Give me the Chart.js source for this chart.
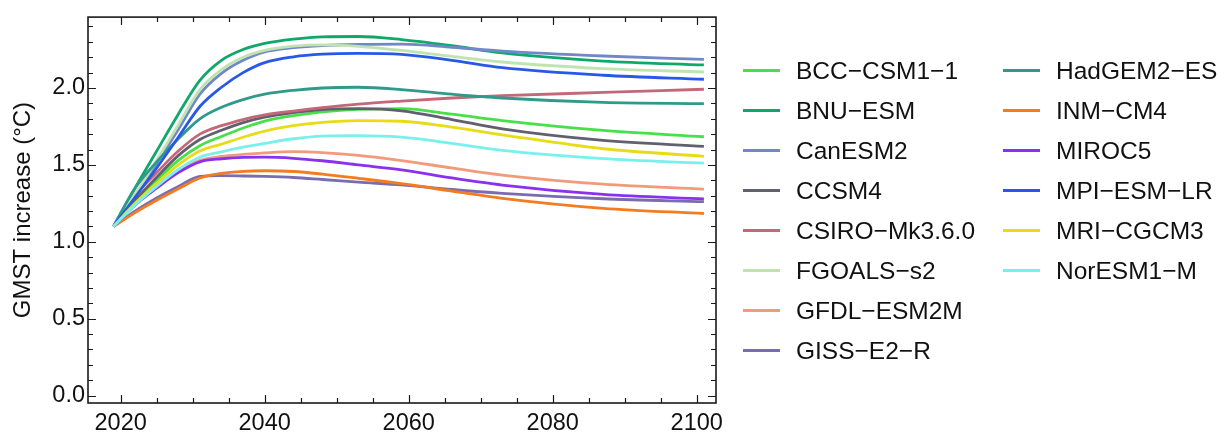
<!DOCTYPE html>
<html lang="en">
<head>
  <meta charset="UTF-8" />
  <title>GMST increase</title>
  <script src="https://cdn.jsdelivr.net/npm/chart.js"></script>
  <style>
    body { margin: 0; background: #fff; }
    #wrap { position: relative; width: 1229px; height: 436px; }
    #legend { position: absolute; left: 0; top: 0; font-family: "Liberation Sans", Arial, sans-serif; font-size: 24.5px; color: #111; }
    .item { position: absolute; height: 40px; line-height: 40px; white-space: nowrap; }
    .item .swatch { position: absolute; left: 0; top: 18px; width: 37px; height: 3px; }
    .item .name { position: absolute; left: 53px; top: 0; }
  </style>
</head>
<body>
<div id="wrap">
  <canvas id="chart" width="1229" height="436"></canvas>
  <div id="legend"></div>
</div>
<script>
  // sample years
  const years = [2019, 2022, 2025, 2028, 2031, 2034, 2037, 2040, 2044, 2048, 2053, 2059, 2066, 2073, 2087, 2101];

  const bcc    = [1.10, 1.26, 1.40, 1.53, 1.625, 1.685, 1.74, 1.785, 1.82, 1.845, 1.862, 1.866, 1.83, 1.788, 1.724, 1.683];
  const bnu    = [1.10, 1.35, 1.59, 1.83, 2.05, 2.18, 2.25, 2.29, 2.318, 2.333, 2.335, 2.315, 2.275, 2.228, 2.175, 2.15];
  const canesm = [1.10, 1.30, 1.51, 1.73, 1.96, 2.095, 2.18, 2.235, 2.262, 2.276, 2.283, 2.285, 2.265, 2.24, 2.208, 2.186];
  const ccsm4  = [1.10, 1.27, 1.42, 1.56, 1.665, 1.725, 1.775, 1.81, 1.84, 1.86, 1.866, 1.852, 1.795, 1.734, 1.659, 1.621];
  const csiro  = [1.10, 1.30, 1.45, 1.59, 1.70, 1.755, 1.795, 1.825, 1.85, 1.872, 1.895, 1.915, 1.935, 1.95, 1.971, 1.992];
  const fgoals = [1.10, 1.31, 1.53, 1.76, 1.99, 2.12, 2.20, 2.245, 2.272, 2.28, 2.27, 2.244, 2.205, 2.169, 2.126, 2.104];
  const gfdl   = [1.10, 1.24, 1.35, 1.46, 1.53, 1.555, 1.568, 1.578, 1.586, 1.58, 1.562, 1.528, 1.48, 1.434, 1.375, 1.343];
  const giss   = [1.10, 1.20, 1.285, 1.36, 1.425, 1.43, 1.428, 1.425, 1.418, 1.405, 1.388, 1.37, 1.34, 1.315, 1.28, 1.261];
  const hadgem = [1.10, 1.35, 1.52, 1.67, 1.80, 1.875, 1.925, 1.96, 1.985, 2.0, 2.005, 1.99, 1.96, 1.935, 1.906, 1.898];
  const inm    = [1.10, 1.19, 1.27, 1.345, 1.415, 1.445, 1.458, 1.462, 1.457, 1.44, 1.413, 1.378, 1.33, 1.283, 1.218, 1.184];
  const miroc5 = [1.10, 1.24, 1.35, 1.45, 1.52, 1.54, 1.549, 1.55, 1.543, 1.527, 1.50, 1.468, 1.415, 1.369, 1.308, 1.279];
  const mpi    = [1.10, 1.29, 1.48, 1.68, 1.88, 2.005, 2.10, 2.165, 2.203, 2.22, 2.225, 2.218, 2.18, 2.132, 2.083, 2.057];
  const mri    = [1.10, 1.25, 1.38, 1.50, 1.59, 1.635, 1.68, 1.72, 1.755, 1.776, 1.788, 1.784, 1.745, 1.696, 1.605, 1.556];
  const noresm = [1.10, 1.24, 1.36, 1.47, 1.55, 1.585, 1.615, 1.64, 1.67, 1.687, 1.69, 1.68, 1.64, 1.595, 1.541, 1.511];

  const modelNames = [
    "BCC\u2212CSM1\u22121", "BNU\u2212ESM", "CanESM2", "CCSM4", "CSIRO\u2212Mk3.6.0",
    "FGOALS\u2212s2", "GFDL\u2212ESM2M", "GISS\u2212E2\u2212R", "HadGEM2\u2212ES", "INM\u2212CM4",
    "MIROC5", "MPI\u2212ESM\u2212LR", "MRI\u2212CGCM3", "NorESM1\u2212M"
  ];
  const modelValues = [bcc, bnu, canesm, ccsm4, csiro, fgoals, gfdl, giss, hadgem, inm, miroc5, mpi, mri, noresm];
  const modelColors = [
    "#48e048", "#10a86a", "#7088c8", "#60606e", "#c26878",
    "#c0e4b0", "#f29a7c", "#7a6cb0", "#2f9a8c", "#f47c20",
    "#8c30f0", "#2858e8", "#e8dc18", "#78f0ec"
  ];

  const xTicks = [2020, 2040, 2060, 2080, 2100];
  const yTicks = [0, 0.5, 1, 1.5, 2];

  const FONT = "'Liberation Sans', Arial, sans-serif";

  // box + inward major/minor ticks on all four sides
  const framePlugin = {
    id: "frame",
    afterDraw(chart) {
      const { ctx, chartArea: a, scales: { x, y } } = chart;
      ctx.save();
      ctx.strokeStyle = "#1a1a1a";
      ctx.lineWidth = 1.2;
      ctx.beginPath();
      for (let v = 2020; v <= 2100; v += 5) {
        const px = Math.round(x.getPixelForValue(v)) + 0.5;
        const len = v % 20 === 0 ? 8 : 5;
        ctx.moveTo(px, a.bottom); ctx.lineTo(px, a.bottom - len);
        ctx.moveTo(px, a.top); ctx.lineTo(px, a.top + len);
      }
      for (let i = 0; i <= 24; i++) {
        const py = Math.round(y.getPixelForValue(i / 10)) + 0.5;
        const len = i % 5 === 0 ? 8 : 5;
        ctx.moveTo(a.left, py); ctx.lineTo(a.left + len, py);
        ctx.moveTo(a.right, py); ctx.lineTo(a.right - len, py);
      }
      ctx.stroke();
      ctx.lineWidth = 1.6;
      ctx.strokeRect(a.left, a.top, a.right - a.left, a.bottom - a.top);
      ctx.restore();
    }
  };

  const datasets = modelNames.map((name, i) => ({
    label: name,
    data: years.map((yr, j) => ({ x: yr, y: modelValues[i][j] })),
    borderColor: modelColors[i],
    backgroundColor: modelColors[i],
    borderWidth: 2.8,
    pointRadius: 0,
    cubicInterpolationMode: "monotone",
    order: -i
  }));

  new Chart(document.getElementById("chart"), {
    type: "line",
    data: { datasets },
    options: {
      responsive: false,
      animation: false,
      devicePixelRatio: 1,
      layout: { padding: { left: 0, top: 14, right: 513, bottom: 0 } },
      plugins: { legend: { display: false }, tooltip: { enabled: false } },
      scales: {
        x: {
          type: "linear",
          min: 2015.46,
          max: 2102.68,
          afterBuildTicks: s => { s.ticks = xTicks.map(v => ({ value: v })); },
          afterFit: s => { s.height = 33; },
          grid: { display: false, drawTicks: false },
          border: { display: false },
          ticks: {
            color: "#111",
            padding: 6,
            maxRotation: 0,
            font: { family: FONT, size: 23.5 },
            callback: v => String(v)
          }
        },
        y: {
          min: -0.048,
          max: 2.461,
          afterBuildTicks: s => { s.ticks = yTicks.map(v => ({ value: v })); },
          afterFit: s => { s.width = 88; },
          grid: { display: false, drawTicks: false },
          border: { display: false },
          ticks: {
            color: "#111",
            padding: 3,
            font: { family: FONT, size: 23.5 },
            callback: v => Number(v).toFixed(1)
          },
          title: {
            display: true,
            text: "GMST increase (\u00b0C)",
            color: "#111",
            padding: { top: 9, bottom: 0 },
            font: { family: FONT, size: 24 }
          }
        }
      }
    },
    plugins: [framePlugin]
  });

  // two-column legend, filled top to bottom
  const legend = document.getElementById("legend");
  modelNames.forEach((name, i) => {
    const col = i < 8 ? 0 : 1;
    const row = i < 8 ? i : i - 8;
    const item = document.createElement("div");
    item.className = "item";
    item.style.left = (col ? 1003 : 743) + "px";
    item.style.top = (50.5 + row * 40) + "px";
    item.innerHTML = '<span class="swatch" style="background:' + modelColors[i] + '"></span><span class="name">' + name + "</span>";
    legend.appendChild(item);
  });
</script>
</body>
</html>
